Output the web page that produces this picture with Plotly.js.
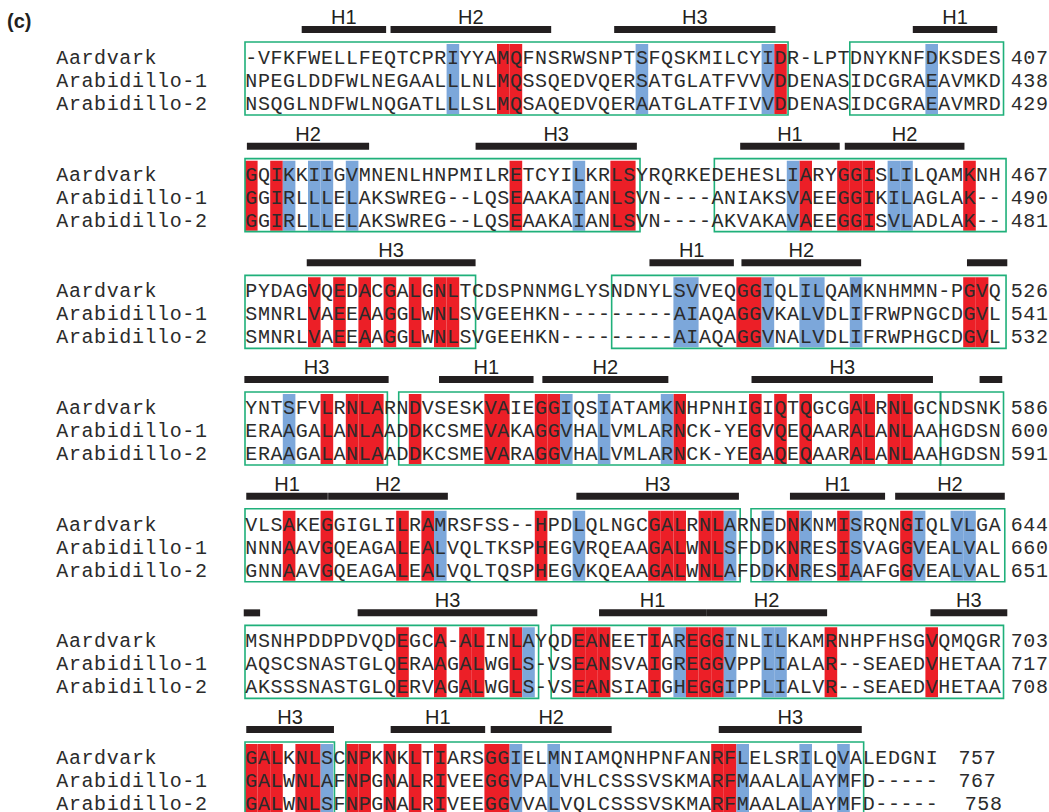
<!DOCTYPE html>
<html><head><meta charset="utf-8">
<script src="https://cdn.plot.ly/plotly-3.0.1.min.js"></script>
<style>html,body{margin:0;padding:0;background:#fff;}#chart{width:1049px;height:812px;}</style>
</head><body><div id="chart"></div>
<script>
// ---------------- DATA ----------------
const seqNames = ['Aardvark', 'Arabidillo-1', 'Arabidillo-2'];

const aardvarkSeq = [
  '-VFKFWELLFEQTCPRIYYAMQFNSRWSNPTSFQSKMILCYIDR-LPTDNYKNFDKSDES',
  'GQIKKIIGVMNENLHNPMILRETCYILKRLSYRQRKEDEHESLIARYGGISLILQAMKNH',
  'PYDAGVQEDACGALGNLTCDSPNNMGLYSNDNYLSVVEQGGIQLILQAMKNHMMN-PGVQ',
  'YNTSFVLRNLARNDVSESKVAIEGGIQSIATAMKNHPNHIGIQTQGCGALRNLGCNDSNK',
  'VLSAKEGGIGLILRAMRSFSS--HPDLQLNGCGALRNLARNEDNKNMISRQNGIQLVLGA',
  'MSNHPDDPDVQDEGCA-ALINLAYQDEANEETIAREGGINLILKAMRNHPFHSGVQMQGR',
  'GALKNLSCNPKNKLTIARSGGIELMNIAMQNHPNFANRFLELSRILQVALEDGNI'
];
const arabidillo1Seq = [
  'NPEGLDDFWLNEGAALLLNLMQSSQEDVQERSATGLATFVVVDDENASIDCGRAEAVMKD',
  'GGIRLLLELAKSWREG--LQSEAAKAIANLSVN----ANIAKSVAEEGGIKILAGLAK--',
  'SMNRLVAEEAAGGLWNLSVGEEHKN---------AIAQAGGVKALVDLIFRWPNGCDGVL',
  'ERAAGALANLAADDKCSMEVAKAGGVHALVMLARNCK-YEGVQEQAARALANLAAHGDSN',
  'NNNAAVGQEAGALEALVQLTKSPHEGVRQEAAGALWNLSFDDKNRESISVAGGVEALVAL',
  'AQSCSNASTGLQERAAGALWGLS-VSEANSVAIGREGGVPPLIALAR--SEAEDVHETAA',
  'GALWNLAFNPGNALRIVEEGGVPALVHLCSSSVSKMARFMAALALAYMFD-----'
];
const arabidillo2Seq = [
  'NSQGLNDFWLNQGATLLLSLMQSAQEDVQERAATGLATFIVVDDENASIDCGRAEAVMRD',
  'GGIRLLLELAKSWREG--LQSEAAKAIANLSVN----AKVAKAVAEEGGISVLADLAK--',
  'SMNRLVAEEAAGGLWNLSVGEEHKN---------AIAQAGGVNALVDLIFRWPHGCDGVL',
  'ERAAGALANLAADDKCSMEVARAGGVHALVMLARNCK-YEGAQEQAARALANLAAHGDSN',
  'GNNAAVGQEAGALEALVQLTQSPHEGVKQEAAGALWNLAFDDKNRESIAAFGGVEALVAL',
  'AKSSSNASTGLQERVAGALWGLS-VSEANSIAIGHEGGIPPLIALVR--SEAEDVHETAA',
  'GALWNLSFNPGNALRIVEEGGVVALVQLCSSSVSKMARFMAALALAYMFD-----'
];

const aardvarkEnd    = [407, 467, 526, 586, 644, 703, 757];
const arabidillo1End = [438, 490, 541, 600, 660, 717, 767];
const arabidillo2End = [429, 481, 532, 591, 651, 708, 758];

// conserved columns (alignment column index, 0-based, per block)
const redColumns = [
  [20, 21, 42],
  [0, 2, 21, 29, 30, 44, 47, 48, 49, 57],
  [5, 7, 9, 11, 13, 15, 16, 39, 40, 57, 58],
  [6, 8, 9, 10, 13, 19, 20, 23, 24, 34, 40, 42, 44, 48, 49, 51, 52],
  [3, 6, 12, 14, 23, 32, 33, 34, 36, 37, 43, 47, 52],
  [12, 15, 17, 18, 21, 26, 27, 28, 32, 35, 36, 37, 46, 54],
  [0, 1, 2, 4, 5, 8, 9, 11, 13, 15, 19, 20, 37, 38]
];
const blueColumns = [
  [16, 31, 41, 54],
  [3, 5, 6, 8, 26, 43, 51, 52],
  [34, 35, 41, 44, 45, 48],
  [3, 25, 28, 33],
  [15, 26, 38, 41, 44, 48, 53, 56, 57],
  [22, 34, 38, 41, 42],
  [6, 21, 24, 39, 44, 47]
];

// helices (column spans, per block)
const helixLabels = [
  ['H1', 'H2', 'H3', 'H1'],
  ['H2', 'H3', 'H1', 'H2'],
  ['H3', 'H1', 'H2', ''],
  ['H3', 'H1', 'H2', 'H3', ''],
  ['H1', 'H2', 'H3', 'H1', 'H2'],
  ['', 'H3', 'H1', 'H2', 'H3'],
  ['H3', 'H1', 'H2', 'H3']
];
const helixStart = [
  [4.5, 11.55, 29.3, 53],
  [0.15, 18.3, 39.3, 47.6],
  [4.9, 32.1, 39.4, 57.3],
  [-0.05, 15.4, 23.6, 40.2, 58.3],
  [0.1, 6.6, 26.3, 43.25, 51.6],
  [-0.1, 8.94, 28.1, 36.6, 54.4],
  [0.1, 11.56, 19.5, 37.6]
];
const helixEnd = [
  [11.2, 24.3, 42.1, 59.7],
  [9.85, 31.1, 47.2, 57.1],
  [18.3, 38.8, 48.9, 60.5],
  [11.4, 22.9, 33.6, 54.6, 60.1],
  [6.57, 16.1, 39.2, 50.8, 60.3],
  [1.2, 23.2, 36.6, 46.2, 60.5],
  [7.06, 19.06, 29.1, 48.95]
];

// boxed regions (column spans, per block)
const boxStart = [
  [0, 48],
  [0, 37.25],
  [0, 29.1],
  [0, 12.2, 55.2],
  [0, 40.16],
  [0, 24.3],
  [0, 8]
];
const boxEnd = [
  [43.1, 60.2],
  [31.35, 60.4],
  [18.3, 60.4],
  [11.3, 55.2, 60.2],
  [39.3, 60.3],
  [23.3, 60.2],
  [7.1, 49.1]
];

// ---------------- LAYOUT ----------------
const W = 1049, H = 812;
const PITCH = 12.6, X0 = 245;
const ROW1 = 57, BSTEP = 116.67, RSTEP = 23;
const TEXT_DY = 2;
const RED = '#ec1f27', BLUE = '#7ca7da', GREEN = '#1fb07a', INK = '#231f20';
const MONO = 'Liberation Mono, Courier New, monospace';
const SANS = 'Liberation Sans, Arial, Helvetica, sans-serif';

const seqs = [aardvarkSeq, arabidillo1Seq, arabidillo2Seq];
const ends = [aardvarkEnd, arabidillo1End, arabidillo2End];
const rowY = (b, r) => ROW1 + b * BSTEP + r * RSTEP;
const lastBlock = aardvarkSeq.length - 1;
const numberCol = (b, r) => b === lastBlock ? 56.6 + (r === 2 ? 0.5 : 0) : 60.75;

const sx = [], sy = [], st = [];
function putChars(str, startCol, y) {
  for (let i = 0; i < str.length; i++) {
    const ch = str[i];
    if (ch === ' ') continue;
    sx.push(startCol + i + 0.5); sy.push(y); st.push(ch);
  }
}
const shapes = [];
const lx = [], ly = [], lt = [];

for (let b = 0; b < aardvarkSeq.length; b++) {
  const top = rowY(b, 0), bot = rowY(b, 2);
  redColumns[b].forEach(c => shapes.push({type: 'rect', xref: 'x', yref: 'y', x0: c, x1: c + 1,
    y0: top - 13, y1: bot + 11, fillcolor: RED, line: {width: 0}, layer: 'below'}));
  blueColumns[b].forEach(c => shapes.push({type: 'rect', xref: 'x', yref: 'y', x0: c, x1: c + 1,
    y0: top - 13, y1: bot + 11, fillcolor: BLUE, line: {width: 0}, layer: 'below'}));
  boxStart[b].forEach((s, k) => shapes.push({type: 'rect', xref: 'x', yref: 'y', x0: s, x1: boxEnd[b][k],
    y0: top - 15, y1: bot + 12, fillcolor: 'rgba(0,0,0,0)', line: {color: GREEN, width: 1.6}, layer: 'below'}));
  helixStart[b].forEach((s, k) => {
    const e = helixEnd[b][k];
    shapes.push({type: 'rect', xref: 'x', yref: 'y', x0: s, x1: e,
      y0: top - 31, y1: top - 24, fillcolor: INK, line: {width: 0}, layer: 'below'});
    if (helixLabels[b][k]) { lx.push((s + e) / 2); ly.push(top - 38); lt.push(helixLabels[b][k]); }
  });
  for (let r = 0; r < 3; r++) {
    const y = rowY(b, r) + TEXT_DY;
    putChars(seqNames[r], -15, y);
    putChars(seqs[r][b], 0, y);
    putChars(String(ends[r][b]), numberCol(b, r), y);
  }
}

const traces = [
  {type: 'scatter', mode: 'text', x: sx, y: sy, text: st, textposition: 'middle center',
   textfont: {family: MONO, size: 20, color: '#2b2b2b'}, hoverinfo: 'skip', showlegend: false, cliponaxis: false},
  {type: 'scatter', mode: 'text', x: lx, y: ly, text: lt, textposition: 'middle center',
   textfont: {family: SANS, size: 20, color: INK}, hoverinfo: 'skip', showlegend: false},
  {type: 'scatter', mode: 'text', x: [(7 - X0) / PITCH], y: [23], text: ['<b>(c)</b>'], textposition: 'middle right',
   textfont: {family: SANS, size: 20, color: INK}, hoverinfo: 'skip', showlegend: false}
];

const layout = {
  width: W, height: H,
  margin: {l: 0, r: 0, t: 0, b: 0, pad: 0},
  paper_bgcolor: '#fff', plot_bgcolor: '#fff',
  xaxis: {range: [-X0 / PITCH, (W - X0) / PITCH], visible: false, fixedrange: true},
  yaxis: {range: [H, 0], visible: false, fixedrange: true},
  shapes: shapes,
  showlegend: false
};

Plotly.newPlot('chart', traces, layout, {staticPlot: true, displayModeBar: false});
</script>
</body></html>
